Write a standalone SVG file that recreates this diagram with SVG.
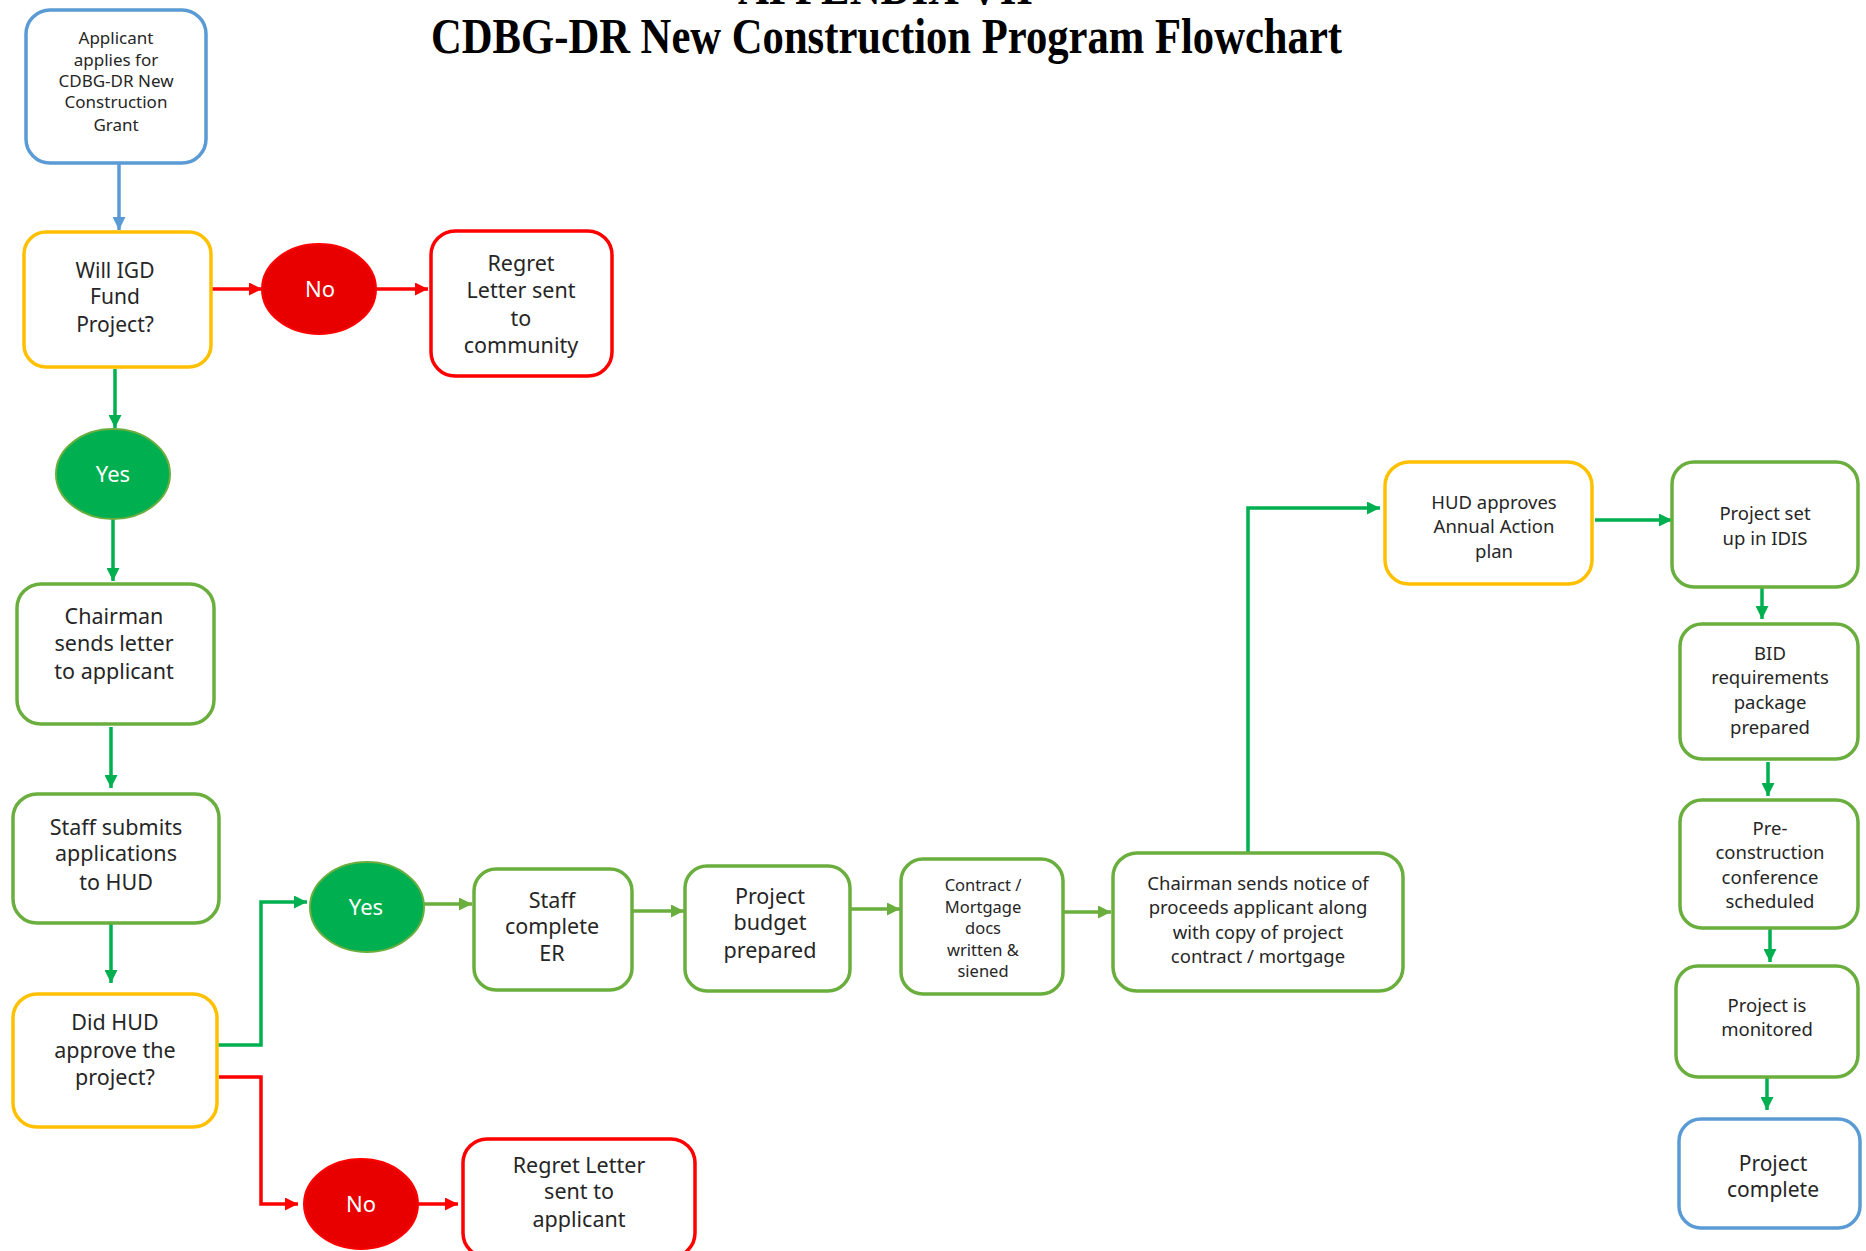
<svg xmlns="http://www.w3.org/2000/svg" width="1866" height="1251" viewBox="0 0 1866 1251">
<defs>
<style>
.box{fill:#fff;stroke-width:3.5}
.blue{stroke:#5B9BD5}.yellow{stroke:#FFC000}.red{stroke:#FF0000}.green{stroke:#6AAE3E}
.t{font-family:"Noto Sans","Open Sans",sans-serif;fill:#262626;text-anchor:middle}
.w{font-family:"Noto Sans","Open Sans",sans-serif;fill:#fff;text-anchor:middle;font-size:22px}
.c{fill:none;stroke-width:3.5}
.title{font-family:"Liberation Serif","Times New Roman",serif;font-weight:bold;font-size:50px;fill:#000}
</style>
<marker id="ag" viewBox="0 0 12 12" refX="12" refY="6" markerWidth="13" markerHeight="13" markerUnits="userSpaceOnUse" orient="auto"><path d="M0,0 L12,6 L0,12 z" fill="#00B050"/></marker>
<marker id="ao" viewBox="0 0 12 12" refX="12" refY="6" markerWidth="13" markerHeight="13" markerUnits="userSpaceOnUse" orient="auto"><path d="M0,0 L12,6 L0,12 z" fill="#6AAE3E"/></marker>
<marker id="ar" viewBox="0 0 12 12" refX="12" refY="6" markerWidth="13" markerHeight="13" markerUnits="userSpaceOnUse" orient="auto"><path d="M0,0 L12,6 L0,12 z" fill="#FF0000"/></marker>
<marker id="ab" viewBox="0 0 12 12" refX="12" refY="6" markerWidth="13" markerHeight="13" markerUnits="userSpaceOnUse" orient="auto"><path d="M0,0 L12,6 L0,12 z" fill="#5B9BD5"/></marker>
<clipPath id="noticeClip"><rect x="1113" y="853" width="290" height="114"/></clipPath>
</defs>
<rect width="1866" height="1251" fill="#fff"/>

<g id="title">
<text class="title" x="738" y="4" textLength="295" lengthAdjust="spacingAndGlyphs">APPENDIX VII</text>
<text class="title" x="431" y="53" textLength="911" lengthAdjust="spacingAndGlyphs">CDBG-DR New Construction Program Flowchart</text>
</g>

<g id="connectors">
<path class="c" stroke="#5B9BD5" d="M119 163 V230" marker-end="url(#ab)"/>
<path class="c" stroke="#FF0000" d="M211 289 H262" marker-end="url(#ar)"/>
<path class="c" stroke="#FF0000" d="M376 289 H428" marker-end="url(#ar)"/>
<path class="c" stroke="#00B050" d="M115 369 V428" marker-end="url(#ag)"/>
<path class="c" stroke="#00B050" d="M113 519 V581" marker-end="url(#ag)"/>
<path class="c" stroke="#00B050" d="M111 727 V788" marker-end="url(#ag)"/>
<path class="c" stroke="#00B050" d="M111 923 V983" marker-end="url(#ag)"/>
<path class="c" stroke="#00B050" d="M217 1045 H261 V902 H307" marker-end="url(#ag)"/>
<path class="c" stroke="#6AAE3E" d="M424 904 H472" marker-end="url(#ao)"/>
<path class="c" stroke="#6AAE3E" d="M632 911 H684" marker-end="url(#ao)"/>
<path class="c" stroke="#6AAE3E" d="M850 909 H900" marker-end="url(#ao)"/>
<path class="c" stroke="#6AAE3E" d="M1063 912 H1111" marker-end="url(#ao)"/>
<path class="c" stroke="#00B050" d="M1248 853 V508 H1380" marker-end="url(#ag)"/>
<path class="c" stroke="#00B050" stroke-width="1.8" d="M1595 520 H1672" marker-end="url(#ag)"/>
<path class="c" stroke="#00B050" d="M1762 587 V619" marker-end="url(#ag)"/>
<path class="c" stroke="#00B050" d="M1768 762 V796" marker-end="url(#ag)"/>
<path class="c" stroke="#00B050" d="M1770 929 V962" marker-end="url(#ag)"/>
<path class="c" stroke="#00B050" d="M1767 1077 V1110" marker-end="url(#ag)"/>
<path class="c" stroke="#FF0000" d="M219 1077 H261 V1204 H298" marker-end="url(#ar)"/>
<path class="c" stroke="#FF0000" d="M418 1204 H458" marker-end="url(#ar)"/>
</g>

<g id="applicant">
<rect class="box blue" x="26" y="10" width="180" height="153" rx="24"/>
<text class="t" font-size="17"><tspan x="116" y="44">Applicant</tspan><tspan x="116" y="66">applies for</tspan><tspan x="116" y="87">CDBG-DR New</tspan><tspan x="116" y="108">Construction</tspan><tspan x="116" y="131">Grant</tspan></text>
</g>
<g id="will-igd">
<rect class="box yellow" x="24" y="232" width="187" height="135" rx="22"/>
<text class="t" font-size="21"><tspan x="115" y="278">Will IGD</tspan><tspan x="115" y="304">Fund</tspan><tspan x="115" y="332">Project?</tspan></text>
</g>
<g id="no1">
<ellipse cx="319" cy="289" rx="57" ry="45" fill="#E80000" stroke="#FF0000" stroke-width="2"/>
<text class="w" x="320" y="297">No</text>
</g>
<g id="regret1">
<rect class="box red" x="431" y="231" width="181" height="145" rx="24"/>
<text class="t" font-size="21.5"><tspan x="521" y="271">Regret</tspan><tspan x="521" y="298">Letter sent</tspan><tspan x="521" y="326">to</tspan><tspan x="521" y="353">community</tspan></text>
</g>
<g id="yes1">
<ellipse cx="113" cy="474" rx="57" ry="45" fill="#00B050" stroke="#6AAE3E" stroke-width="2"/>
<text class="w" x="113" y="482">Yes</text>
</g>
<g id="chairman-letter">
<rect class="box green" x="17" y="584" width="197" height="140" rx="24"/>
<text class="t" font-size="21.5"><tspan x="114" y="624">Chairman</tspan><tspan x="114" y="651">sends letter</tspan><tspan x="114" y="679">to applicant</tspan></text>
</g>
<g id="staff-submits">
<rect class="box green" x="13" y="794" width="206" height="129" rx="24"/>
<text class="t" font-size="21.5"><tspan x="116" y="835">Staff submits</tspan><tspan x="116" y="861">applications</tspan><tspan x="116" y="890">to HUD</tspan></text>
</g>
<g id="did-hud">
<rect class="box yellow" x="13" y="994" width="204" height="133" rx="24"/>
<text class="t" font-size="21.5"><tspan x="115" y="1030">Did HUD</tspan><tspan x="115" y="1058">approve the</tspan><tspan x="115" y="1085">project?</tspan></text>
</g>
<g id="yes2">
<ellipse cx="367" cy="907" rx="57" ry="45" fill="#00B050" stroke="#6AAE3E" stroke-width="2"/>
<text class="w" x="366" y="915">Yes</text>
</g>
<g id="staff-er">
<rect class="box green" x="474" y="869" width="158" height="121" rx="22"/>
<text class="t" font-size="21.5"><tspan x="552" y="908">Staff</tspan><tspan x="552" y="934">complete</tspan><tspan x="552" y="961">ER</tspan></text>
</g>
<g id="budget">
<rect class="box green" x="685" y="866" width="165" height="125" rx="22"/>
<text class="t" font-size="21.5"><tspan x="770" y="904">Project</tspan><tspan x="770" y="930">budget</tspan><tspan x="770" y="958">prepared</tspan></text>
</g>
<g id="contract">
<rect class="box green" x="901" y="859" width="162" height="135" rx="22"/>
<text class="t" font-size="16.5"><tspan x="983" y="891">Contract /</tspan><tspan x="983" y="913">Mortgage</tspan><tspan x="983" y="934">docs</tspan><tspan x="983" y="956">written &amp;</tspan><tspan x="983" y="977">siened</tspan></text>
</g>
<g id="notice">
<rect class="box green" x="1113" y="853" width="290" height="138" rx="24"/>
<text class="t" font-size="18.5" clip-path="url(#noticeClip)"><tspan x="1258" y="890">Chairman sends notice of</tspan><tspan x="1258" y="914">proceeds applicant along</tspan><tspan x="1258" y="939">with copy of project</tspan><tspan x="1258" y="963">contract / mortgage</tspan></text>
</g>
<g id="hud-approves">
<rect class="box yellow" x="1385" y="462" width="207" height="122" rx="24"/>
<text class="t" font-size="18.5"><tspan x="1494" y="509">HUD approves</tspan><tspan x="1494" y="533">Annual Action</tspan><tspan x="1494" y="558">plan</tspan></text>
</g>
<g id="idis">
<rect class="box green" x="1672" y="462" width="186" height="125" rx="22"/>
<text class="t" font-size="18.5"><tspan x="1765" y="520">Project set</tspan><tspan x="1765" y="545">up in IDIS</tspan></text>
</g>
<g id="bid">
<rect class="box green" x="1680" y="624" width="178" height="135" rx="22"/>
<text class="t" font-size="18.5"><tspan x="1770" y="660">BID</tspan><tspan x="1770" y="684">requirements</tspan><tspan x="1770" y="709">package</tspan><tspan x="1770" y="734">prepared</tspan></text>
</g>
<g id="preconstruction">
<rect class="box green" x="1680" y="800" width="178" height="128" rx="22"/>
<text class="t" font-size="18.5"><tspan x="1770" y="835">Pre-</tspan><tspan x="1770" y="859">construction</tspan><tspan x="1770" y="884">conference</tspan><tspan x="1770" y="908">scheduled</tspan></text>
</g>
<g id="monitored">
<rect class="box green" x="1676" y="966" width="182" height="111" rx="22"/>
<text class="t" font-size="18.5"><tspan x="1767" y="1012">Project is</tspan><tspan x="1767" y="1036">monitored</tspan></text>
</g>
<g id="complete">
<rect class="box blue" x="1679" y="1119" width="181" height="109" rx="22"/>
<text class="t" font-size="21"><tspan x="1773" y="1171">Project</tspan><tspan x="1773" y="1197">complete</tspan></text>
</g>
<g id="no2">
<ellipse cx="361" cy="1204" rx="57" ry="45" fill="#E80000" stroke="#FF0000" stroke-width="2"/>
<text class="w" x="361" y="1212">No</text>
</g>
<g id="regret2">
<rect class="box red" x="463" y="1139" width="232" height="118" rx="24"/>
<text class="t" font-size="21.5"><tspan x="579" y="1173">Regret Letter</tspan><tspan x="579" y="1199">sent to</tspan><tspan x="579" y="1227">applicant</tspan></text>
</g>
</svg>
